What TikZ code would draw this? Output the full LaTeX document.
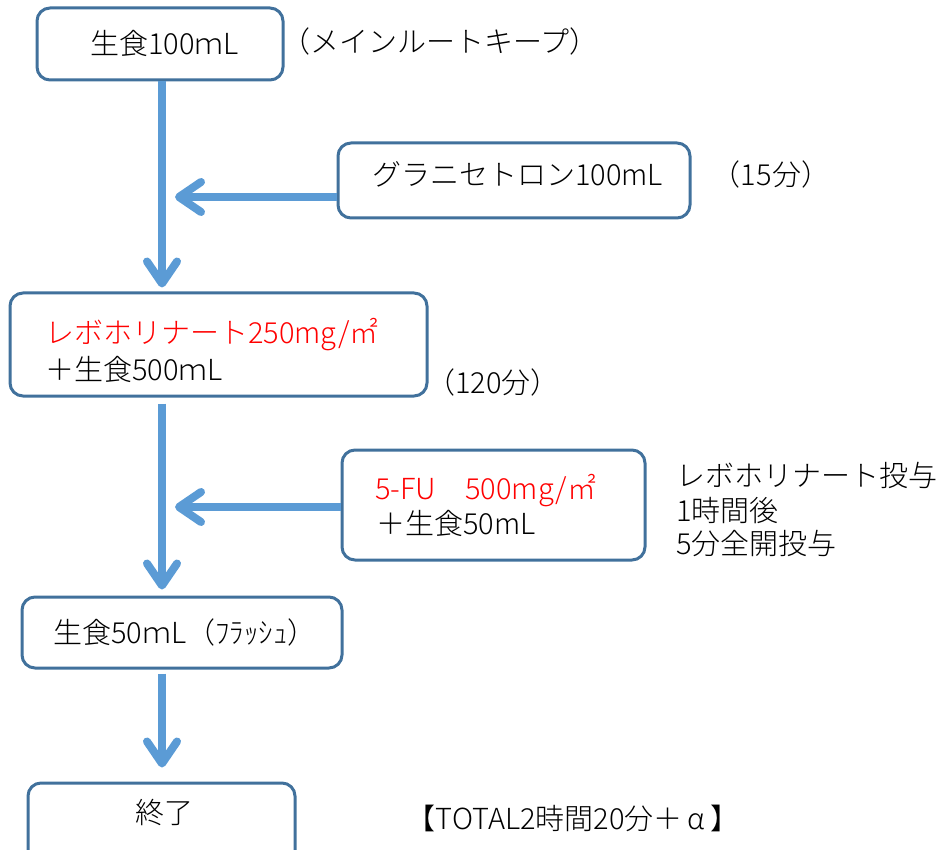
\documentclass[tikz,border=0pt]{standalone}
\usepackage{fontspec}
\setmainfont{Noto Sans CJK JP}[UprightFont=* Light, BoldFont=* Bold]
\usetikzlibrary{arrows.meta}
\definecolor{boxblue}{RGB}{65,113,156}
\definecolor{arrblue}{RGB}{91,155,213}
\definecolor{redtxt}{RGB}{255,0,0}
\tikzset{
  box/.style={draw=boxblue, line width=3pt, rounded corners=13pt, fill=white, inner sep=0pt},
  arr/.style={draw=arrblue, line width=8pt, -{Straight Barb[length=22pt, width=30pt, round]}},
  txt/.style={anchor=base west, inner sep=0pt, font=\fontsize{29}{35}\selectfont},
  ctxt/.style={anchor=base, inner sep=0pt, font=\fontsize{29}{35}\selectfont},
}
\begin{document}
\begin{tikzpicture}[x=1pt, y=-1pt]
\useasboundingbox (0,0) rectangle (948,850);
% boxes
\node[box, minimum width=246pt, minimum height=72pt] (b1) at (160,44) {};
\node[box, minimum width=352pt, minimum height=75pt] (b2) at (514,180.5) {};
\node[box, minimum width=417pt, minimum height=103pt] (b3) at (218.5,344.5) {};
\node[box, minimum width=303pt, minimum height=110pt] (b4) at (493.5,505) {};
\node[box, minimum width=320pt, minimum height=71pt] (b5) at (182,632.5) {};
\node[box, minimum width=267pt, minimum height=90pt] (b6) at (161.5,828) {};
% box texts
\node[txt] (t1) at (90,55) {生食100ｍL};
\node[txt] (t2) at (372,186) {グラニセトロン100mL};
\node[txt, text=redtxt] (t3a) at (45,344) {レボホリナート250mg/㎡};
\node[txt] (t3b) at (45,381) {＋生食500ｍL};
\node[txt, text=redtxt] (t4a) at (375,499) {5-FU　500mg/㎡};
\node[txt] (t4b) at (376,534) {＋生食50mL};
\node[txt] (t5) at (53,643) {生食50ｍL（ﾌﾗｯｼｭ）};
\node[txt] (t6) at (135,823) {終了};
% side labels
\node[ctxt] (l1) at (440,53) {（メインルートキープ）};
\node[ctxt] (l2) at (771,186) {（15分）};
\node[ctxt] (l3) at (493,393) {（120分）};
\node[txt] (l4a) at (676,486) {レボホリナート投与};
\node[txt] (l4b) at (676,521) {1時間後};
\node[txt] (l4c) at (676,554) {5分全開投与};
\node[ctxt] (l5) at (573,829) {【TOTAL2時間20分＋\hspace{5pt}α\hspace{5pt}】};
% connectors
\coordinate (mx) at (162,0);
\coordinate (h1) at (175,197);
\coordinate (h2) at (175,507);
\draw[arr, shorten >=4pt] (b1.south -| mx) -- (b3.north -| mx);
\draw[arr] (b2.west |- h1) -- (h1);
\draw[arr, shorten <=6pt, shorten >=6pt] (b3.south -| mx) -- (b5.north -| mx);
\draw[arr] (b4.west |- h2) -- (h2);
\draw[arr, shorten <=4pt, shorten >=14pt] (b5.south -| mx) -- (b6.north -| mx);
\end{tikzpicture}
\end{document}
